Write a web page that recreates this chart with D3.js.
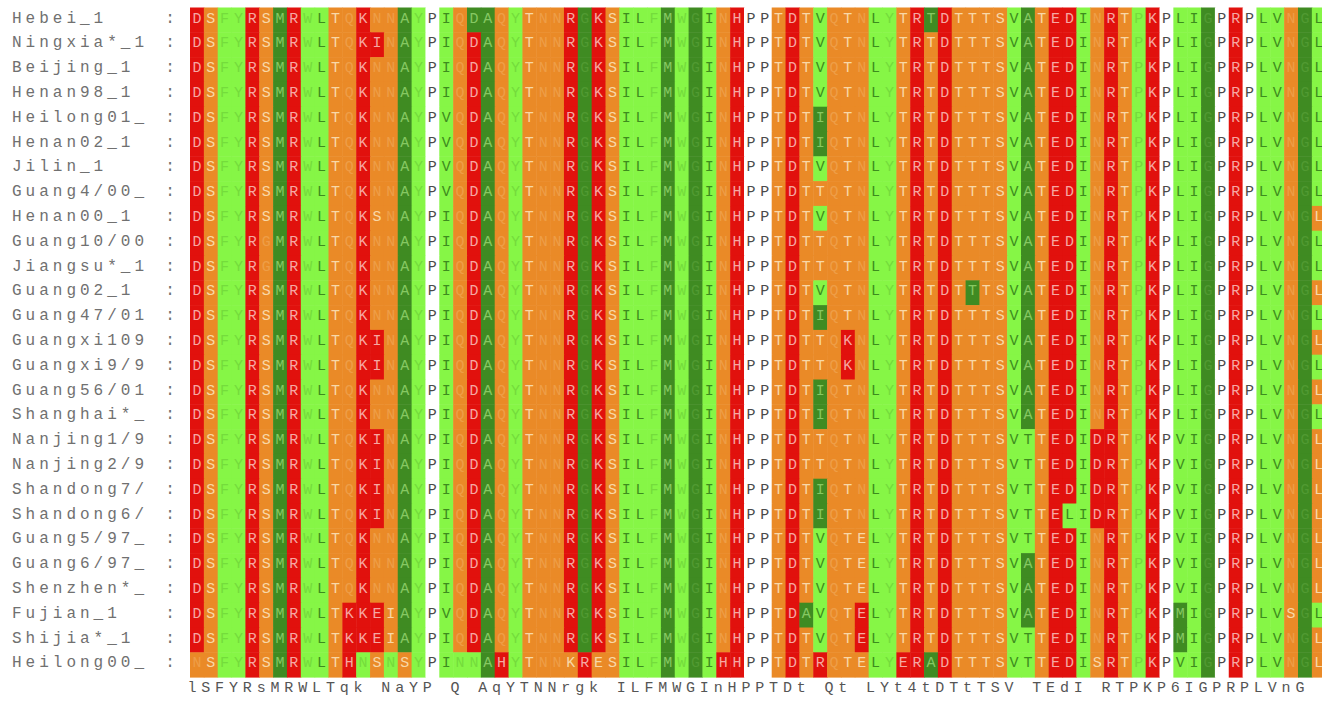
<!DOCTYPE html>
<html>
<head>
<meta charset="utf-8">
<script src="https://cdn.jsdelivr.net/npm/d3@7"></script>
<style>
  html, body { margin: 0; padding: 0; background: #fff; }
  svg { display: block; }
  text { font-family: "Liberation Mono", "DejaVu Sans Mono", monospace; }
</style>
</head>
<body>
<script>
// --- data: sequence names, residues and shading levels (R red, O orange, G light green, D dark green, W white)
const names = ["Hebei_1", "Ningxia*_1", "Beijing_1", "Henan98_1", "Heilong01_", "Henan02_1", "Jilin_1",
  "Guang4/00_", "Henan00_1", "Guang10/00", "Jiangsu*_1", "Guang02_1", "Guang47/01", "Guangxi109",
  "Guangxi9/9", "Guang56/01", "Shanghai*_", "Nanjing1/9", "Nanjing2/9", "Shandong7/", "Shandong6/",
  "Guang5/97_", "Guang6/97_", "Shenzhen*_", "Fujian_1", "Shijia*_1", "Heilong00_"];

const residues = [
  "DSFYRSMRWL TQKNNAYPIQ DAQYTNNRGK SILFMWGINH PPTDTVQTNL YTRTDTTTSV ATEDINRTPK PLIGPRPLVN GL",
  "DSFYRSMRWL TQKINAYPIQ DAQYTNNRGK SILFMWGINH PPTDTVQTNL YTRTDTTTSV ATEDINRTPK PLIGPRPLVN GL",
  "DSFYRSMRWL TQKNNAYPIQ DAQYTNNRGK SILFMWGINH PPTDTVQTNL YTRTDTTTSV ATEDINRTPK PLIGPRPLVN GL",
  "DSFYRSMRWL TQKNNAYPIQ DAQYTNNRGK SILFMWGINH PPTDTVQTNL YTRTDTTTSV ATEDINRTPK PLIGPRPLVN GL",
  "DSFYRSMRWL TQKNNAYPVQ DAQYTNNRGK SILFMWGINH PPTDTIQTNL YTRTDTTTSV ATEDINRTPK PLIGPRPLVN GL",
  "DSFYRSMRWL TQKNNAYPVQ DAQYTNNRGK SILFMWGINH PPTDTIQTNL YTRTDTTTSV ATEDINRTPK PLIGPRPLVN GL",
  "DSFYRSMRWL TQKNNAYPVQ DAQYTNNRGK SILFMWGINH PPTDTVQTNL YTRTDTTTSV ATEDINRTPK PLIGPRPLVN GL",
  "DSFYRSMRWL TQKNNAYPVQ DAQYTNNRGK SILFMWGINH PPTDTTQTNL YTRTDTTTSV ATEDINRTPK PLIGPRPLVN GL",
  "DSFYRSMRWL TQKSNAYPIQ DAQYTNNRGK SILFMWGINH PPTDTVQTNL YTRTDTTTSV ATEDINRTPK PLIGPRPLVN GL",
  "DSFYRGMRWL TQKNNAYPIQ DAQYTNNRGK SILFMWGINH PPTDTTQTNL YTRTDTTTSV ATEDINRTPK PLIGPRPLVN GL",
  "DSFYRGMRWL TQKNNAYPIQ DAQYTNNRGK SILFMWGINH PPTDTTQTNL YTRTDTTTSV ATEDINRTPK PLIGPRPLVN GL",
  "DSFYRSMRWL TQKNNAYPIQ DAQYTNNRGK SILFMWGINH PPTDTVQTNL YTRTDTTTSV ATEDINRTPK PLIGPRPLVN GL",
  "DSFYRSMRWL TQKNNAYPIQ DAQYTNNRGK SILFMWGINH PPTDTIQTNL YTRTDTTTSV ATEDINRTPK PLIGPRPLVN GL",
  "DSFYRSMRWL TQKINAYPIQ DAQYTNNRGK SILFMWGINH PPTDTTQKNL YTRTDTTTSV ATEDINRTPK PLIGPRPLVN GL",
  "DSFYRSMRWL TQKINAYPIQ DAQYTNNRGK SILFMWGINH PPTDTTQKNL YTRTDTTTSV ATEDINRTPK PLIGPRPLVN GL",
  "DSFYRSMRWL TQKNNAYPIQ DAQYTNNRGK SILFMWGINH PPTDTIQTNL YTRTDTTTSV ATEDINRTPK PLIGPRPLVN GL",
  "DSFYRSMRWL TQKNNAYPIQ DAQYTNNRGK SILFMWGINH PPTDTIQTNL YTRTDTTTSV ATEDINRTPK PLIGPRPLVN GL",
  "DSFYRSMRWL TQKINAYPIQ DAQYTNNRGK SILFMWGINH PPTDTTQTNL YTRTDTTTSV TTEDIDRTPK PVIGPRPLVN GL",
  "DSFYRSMRWL TQKINAYPIQ DAQYTNNRGK SILFMWGINH PPTDTTQTNL YTRTDTTTSV TTEDIDRTPK PVIGPRPLVN GL",
  "DSFYRSMRWL TQKINAYPIQ DAQYTNNRGK SILFMWGINH PPTDTIQTNL YTRTDTTTSV TTEDIDRTPK PVIGPRPLVN GL",
  "DSFYRSMRWL TQKINAYPIQ DAQYTNNRGK SILFMWGINH PPTDTIQTNL YTRTDTTTSV TTELIDRTPK PVIGPRPLVN GL",
  "DSFYRSMRWL TQKNNAYPIQ DAQYTNNRGK SILFMWGINH PPTDTVQTEL YTRTDTTTSV TTEDINRTPK PVIGPRPLVN GL",
  "DSFYRSMRWL TQKNNAYPIQ DAQYTNNRGK SILFMWGINH PPTDTVQTEL YTRTDTTTSV ATEDINRTPK PVIGPRPLVN GL",
  "DSFYRSMRWL TQKNNAYPIQ DAQYTNNRGK SILFMWGINH PPTDTVQTEL YTRTDTTTSV ATEDINRTPK PVIGPRPLVN GL",
  "DSFYRSMRWL TKKEIAYPVQ DAQYTNNRGK SILFMWGINH PPTDAVQTEL YTRTDTTTSV ATEDINRTPK PMIGPRPLVS GL",
  "DSFYRSMRWL TKKEIAYPIQ DAQYTNNRGK SILFMWGINH PPTDTVQTEL YTRTDTTTSV TTEDINRTPK PMIGPRPLVN GL",
  "NSFYRSMRWL THNSNSYPIN NAHYTNNKRE SILFMWGIHH PPTDTRQTEL YERADTTTSV TTEDISRTPK PVIGPRPLVN GL"
];

const shading = [
  "ROGGRODRGG OOROODGWGO DDOGOOORDR OGGGDGDGOR WWOROGOOOG GORDROOOOG DORRGOROGR WGGDWRWGGO DG",
  "ROGGRODRGG OORRODGWGO RDOGOOORDR OGGGDGDGOR WWOROGOOOG GOROROOOOG DORRGOROGR WGGDWRWGGO DG",
  "ROGGRODRGG OOROODGWGO RDOGOOORDR OGGGDGDGOR WWOROGOOOG GOROROOOOG DORRGOROGR WGGDWRWGGO DG",
  "ROGGRODRGG OOROODGWGO RDOGOOORDR OGGGDGDGOR WWOROGOOOG GOROROOOOG DORRGOROGR WGGDWRWGGO DG",
  "ROGGRODRGG OOROODGWGO RDOGOOORDR OGGGDGDGOR WWORODOOOG GOROROOOOG DORRGOROGR WGGDWRWGGO DG",
  "ROGGRODRGG OOROODGWGO RDOGOOORDR OGGGDGDGOR WWORODOOOG GOROROOOOG DORRGOROGR WGGDWRWGGO DG",
  "ROGGRODRGG OOROODGWGO RDOGOOORDR OGGGDGDGOR WWOROGOOOG GOROROOOOG DORRGOROGR WGGDWRWGGO DG",
  "ROGGRODRGG OOROODGWGO RDOGOOORDR OGGGDGDGOR WWOROOOOOG GOROROOOOG DORRGOROGR WGGDWRWGGO DG",
  "ROGGRODRGG OOROODGWGO RDOGOOORDR OGGGDGDGOR WWOROGOOOG GOROROOOOG DORRGOROGR WGGDWRWGGO DO",
  "ROGGRODRGG OOROODGWGO RDOGOOORDR OGGGDGDGOR WWOROOOOOG GOROROOOOG DORRGOROGR WGGDWRWGGO DG",
  "ROGGRODRGG OOROODGWGO RDOGOOORDR OGGGDGDGOR WWOROOOOOG GOROROOOOG DORRGOROGR WGGDWRWGGO DG",
  "ROGGRODRGG OOROODGWGO RDOGOOORDR OGGGDGDGOR WWOROGOOOG GORORODOOG DORRGOROGR WGGDWRWGGO DO",
  "ROGGRODRGG OOROODGWGO RDOGOOORDR OGGGDGDGOR WWORODOOOG GOROROOOOG DORRGOROGR WGGDWRWGGO DG",
  "ROGGRODRGG OORRODGWGO RDOGOOORDR OGGGDGDGOR WWOROOOROG GOROROOOOG DORRGOROGR WGGDWRWGGO DO",
  "ROGGRODRGG OORRODGWGO RDOGOOORDR OGGGDGDGOR WWOROOOROG GOROROOOOG DORRGOROGR WGGDWRWGGO DG",
  "ROGGRODRGG OOROODGWGO RDOGOOORDR OGGGDGDGOR WWORODOOOG GOROROOOOG DORRGOROGR WGGDWRWGGO DO",
  "ROGGRODRGG OOROODGWGO RDOGOOORDR OGGGDGDGOR WWORODOOOG GOROROOOOG DORRGOROGR WGGDWRWGGO DG",
  "ROGGRODRGG OORRODGWGO RDOGOOORDR OGGGDGDGOR WWOROOOOOG GOROROOOOG GORRGRROGR WGGDWRWGGO DO",
  "ROGGRODRGG OORRODGWGO RDOGOOORDR OGGGDGDGOR WWOROOOOOG GOROROOOOG GORRGRROGR WGGDWRWGGO DO",
  "ROGGRODRGG OORRODGWGO RDOGOOORDR OGGGDGDGOR WWORODOOOG GOROROOOOG GORRGRROGR WGGDWRWGGO DO",
  "ROGGRODRGG OORRODGWGO RDOGOOORDR OGGGDGDGOR WWORODOOOG GOROROOOOG GORGGRROGR WGGDWRWGGO DO",
  "ROGGRODRGG OOROODGWGO RDOGOOORDR OGGGDGDGOR WWOROGOOOG GOROROOOOG GORRGOROGR WGGDWRWGGO DO",
  "ROGGRODRGG OOROODGWGO RDOGOOORDR OGGGDGDGOR WWOROGOOOG GOROROOOOG DORRGOROGR WGGDWRWGGO DO",
  "ROGGRODRGG OOROODGWGO RDOGOOORDR OGGGDGDGOR WWOROGOOOG GOROROOOOG DORRGOROGR WGGDWRWGGO DO",
  "ROGGRODRGG ORRRODGWGO RDOGOOORDR OGGGDGDGOR WWORDGOORG GOROROOOOG DORRGOROGR WDGDWRWGGO DG",
  "ROGGRODRGG ORRRODGWGO RDOGOOORDR OGGGDGDGOR WWOROGOORG GOROROOOOG GORRGOROGR WDGDWRWGGO DO",
  "OOGGRODRGG ORGOGOGWGG GDRGOOOORO OGGGDGDGRR WWOROROOOG GRRDROOOOG GORRGOROGR WGGDWRWGGO DO"
];

const consensus = "lSFYRsMRWLTqk NaYP Q AqYTNNrgk ILFMWGInHPPTDt Qt LYt4tDTtTSV TEdI RTPKP6IGPRPLVnG";

// residues the shading program prints in a washed-out tint (hardly visible on their cell)
const faintResidues = "FYWQGN";

// --- colours for each shading level
const fill = {R: "#e1110d", O: "#ea8a27", G: "#86f646", D: "#3f8b22", W: "#ffffff"};
const ink  = {R: "#f6a8a3", O: "#f8d8a8", G: "#3d8c1e", D: "#86c862", W: "#4a4a4a"};

const width = 1322, height = 701;
const nCols = 82;
const colW = 13.85, rowH = 24.8;
const gridLeft = 190, gridTop = 7.5;

const rows = names.map((name, i) => ({
  name,
  seq: residues[i].replace(/ /g, ""),
  shade: shading[i].replace(/ /g, "")
}));

const svg = d3.select("body").append("svg")
  .attr("width", width).attr("height", height);

svg.append("rect").attr("width", width).attr("height", height).attr("fill", "#fff");

// scales: one band per alignment column / per sequence
const x = d3.scaleBand().domain(d3.range(nCols)).range([gridLeft, gridLeft + nCols * colW]);
const y = d3.scaleBand().domain(names).range([gridTop, gridTop + names.length * rowH]);

const cells = rows.flatMap(r => d3.range(nCols).map(c => ({
  row: r.name, col: c, res: r.seq[c], lvl: r.shade[c]
})));

function letterColour(d) {
  const faint = d.lvl !== "W" && (faintResidues.includes(d.res) || d.res === "P");
  return faint ? d3.interpolateRgb(fill[d.lvl], ink[d.lvl])(0.25) : ink[d.lvl];
}

// shaded cells
svg.append("g")
  .selectAll("rect")
  .data(cells)
  .join("rect")
    .attr("x", d => x(d.col))
    .attr("y", d => y(d.row))
    .attr("width", x.bandwidth() + 0.5)
    .attr("height", y.bandwidth() + 0.5)
    .attr("fill", d => fill[d.lvl]);

// residue letters
svg.append("g")
  .attr("font-size", 15)
  .attr("text-anchor", "middle")
  .selectAll("text")
  .data(cells)
  .join("text")
    .attr("x", d => x(d.col) + x.bandwidth() / 2)
    .attr("y", d => y(d.row) + 15)
    .attr("fill", letterColour)
    .text(d => d.res);

// sequence names and colons
const lab = svg.append("g").attr("font-size", 16).attr("fill", "#707070");
lab.selectAll("text.name")
  .data(names)
  .join("text")
    .attr("class", "name")
    .attr("x", 12)
    .attr("y", d => y(d) + 15)
    .attr("letter-spacing", 4)
    .text(d => d);
lab.selectAll("text.colon")
  .data(names)
  .join("text")
    .attr("class", "colon")
    .attr("x", 170)
    .attr("y", d => y(d) + 15)
    .attr("text-anchor", "middle")
    .text(":");

// consensus line
svg.append("g")
  .attr("font-size", 15)
  .attr("fill", "#555")
  .attr("text-anchor", "middle")
  .selectAll("text")
  .data(consensus.split("").map((ch, i) => ({ch, i})).filter(d => d.ch !== " "))
  .join("text")
    .attr("x", d => x(d.i) + x.bandwidth() / 2 - 5)
    .attr("y", gridTop + names.length * rowH + 15)
    .text(d => d.ch);
</script>
</body>
</html>
